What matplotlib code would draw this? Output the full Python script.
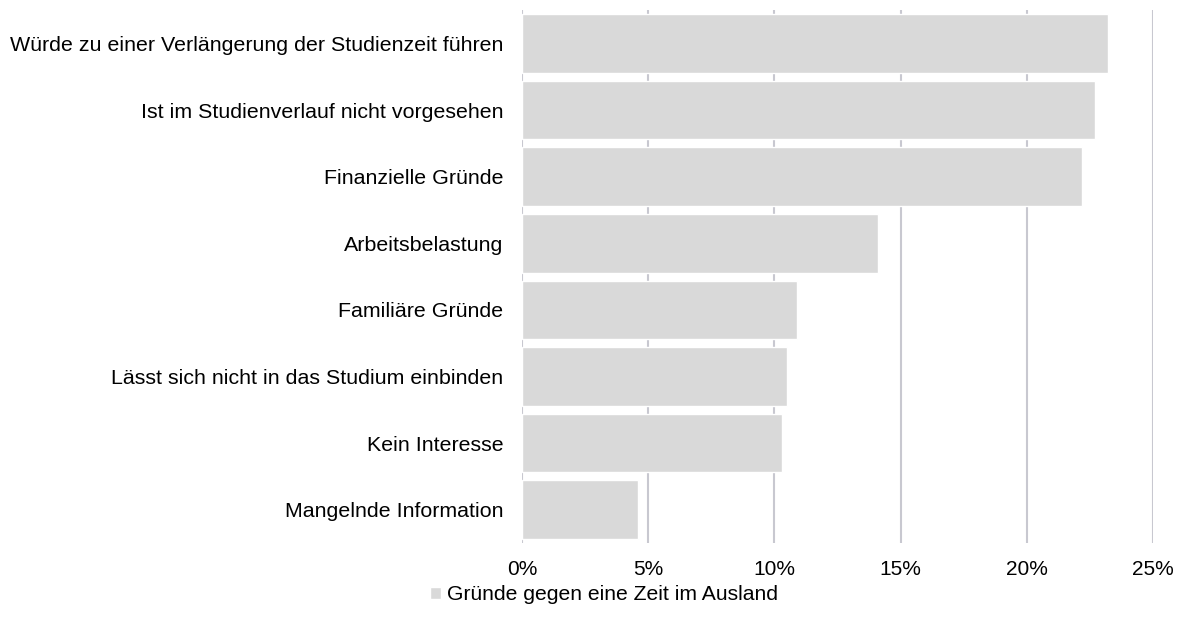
import numpy as np
import matplotlib.pyplot as plt
from matplotlib.ticker import PercentFormatter

plt.rcParams["font.family"] = ["Liberation Sans", "DejaVu Sans"]

categories = [
    "Würde zu einer Verlängerung der Studienzeit führen",
    "Ist im Studienverlauf nicht vorgesehen",
    "Finanzielle Gründe",
    "Arbeitsbelastung",
    "Familiäre Gründe",
    "Lässt sich nicht in das Studium einbinden",
    "Kein Interesse",
    "Mangelnde Information",
]
values = [23.2, 22.7, 22.2, 14.1, 10.9, 10.5, 10.3, 4.6]
series_name = "Gründe gegen eine Zeit im Ausland"
xticks = [0, 5, 10, 15, 20, 25]

fig = plt.figure(figsize=(11.8, 6.3), dpi=100)
ax = fig.add_axes([0.4424, 0.138, 0.5347, 0.846])

y = np.arange(len(categories))
ax.barh(y, values, height=0.88, color="#d9d9d9", edgecolor="white",
        linewidth=1, label=series_name, zorder=2)

ax.set_ylim(len(categories) - 0.5, -0.5)
ax.set_yticks(y)
ax.set_yticklabels(categories, fontsize=15.4)
ax.set_xlim(0, 25)
ax.set_xticks(xticks)
ax.xaxis.set_major_formatter(PercentFormatter(decimals=0))
ax.tick_params(axis="x", labelsize=15, length=0, pad=12)
ax.tick_params(axis="y", length=0, pad=13.5)

ax.grid(axis="x", color="#c8c8d0", linewidth=1.5, zorder=0)
ax.set_axisbelow(True)
for s in ax.spines.values():
    s.set_visible(False)

fig.legend(loc="center", bbox_to_anchor=(0.512, 0.056), frameon=False,
           fontsize=15.2, handlelength=0.5, handleheight=0.5,
           handletextpad=0.3)

fig.savefig("out.png", dpi=100)
